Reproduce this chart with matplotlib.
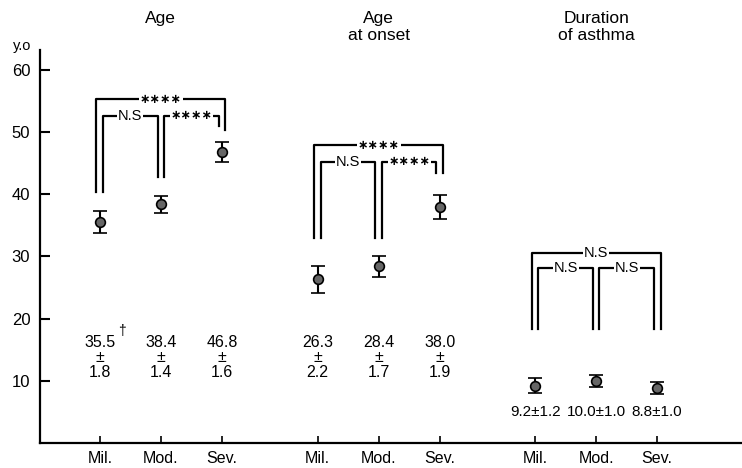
import matplotlib.pyplot as plt
import numpy as np

# data
groups = ['Age', 'Age\nat onset', 'Duration\nof asthma']
severity = ['Mil.', 'Mod.', 'Sev.']
group_offset = [0, 3.57, 7.13]

means = [[35.5, 38.4, 46.8],   # age
         [26.3, 28.4, 38.0],   # age at onset
         [9.2, 10.0, 8.8]]     # duration of asthma
sems = [[1.8, 1.4, 1.6],
        [2.2, 1.7, 1.9],
        [1.2, 1.0, 1.0]]

# brackets: outer top, inner top, leg bottoms (Mil, Mod, Sev inner, Sev outer)
bracket_top = [[55.3, 52.6], [47.9, 45.2], [30.6, 28.1]]
bracket_bottom = [[40.4, 42.8, 51.0, 50.3],
                  [32.9, 32.9, 43.5, 43.4],
                  [18.3, 18.3, 18.3, 18.3]]
# labels: outer (Mil-Sev), Mil-Mod, Mod-Sev
bracket_label = [['****', 'N.S', '****'],
                 ['****', 'N.S', '****'],
                 ['N.S', 'N.S', 'N.S']]

yticks = [10, 20, 30, 40, 50, 60]

plt.rcParams['font.family'] = ['Liberation Sans', 'DejaVu Sans']

fig = plt.figure(figsize=(7.42, 4.68), dpi=100)
ax = fig.add_axes([40 / 742, 25 / 468, 702 / 742, 393 / 468])


def label_text(x, y, s):
    box = dict(facecolor='white', edgecolor='none', pad=0.5)
    if '*' in s:
        ax.text(x, y, s.replace('*', '\u2217'), ha='center', va='center',
                fontsize=9, fontweight='bold', family='DejaVu Sans', bbox=box)
    else:
        ax.text(x, y, s, ha='center', va='center', fontsize=10.5, bbox=box)


d = 0.055
lw = 1.6
for g in range(3):
    x = np.array(group_offset[g]) + np.arange(3)
    ax.errorbar(x, means[g], yerr=sems[g], fmt='o', color='k', ms=7,
                mfc='#666666', mec='k', mew=1.2, elinewidth=1.5,
                capsize=5, capthick=1.5)

    top_o, top_i = bracket_top[g]
    b = bracket_bottom[g]
    lo, li, mo = bracket_label[g]
    # outer bracket Mil - Sev
    ax.plot([x[0] - d, x[0] - d, x[2] + d, x[2] + d], [b[0], top_o, top_o, b[3]],
            color='k', lw=lw)
    # Mil - Mod
    ax.plot([x[0] + d, x[0] + d, x[1] - d, x[1] - d], [b[0], top_i, top_i, b[1]],
            color='k', lw=lw)
    # Mod - Sev
    ax.plot([x[1] + d, x[1] + d, x[2] - d, x[2] - d], [b[1], top_i, top_i, b[2]],
            color='k', lw=lw)
    label_text((x[0] + x[2]) / 2, top_o, lo)
    label_text((x[0] + x[1]) / 2, top_i, li)
    label_text((x[1] + x[2]) / 2, top_i, mo)

    # values printed under the points
    for i in range(3):
        if g < 2:
            ax.text(x[i], 13.7, '%.1f\n±\n%.1f' % (means[g][i], sems[g][i]),
                    ha='center', va='center', fontsize=11.5, linespacing=1.0)
        else:
            ax.text(x[i], 5.0, '%.1f±%.1f' % (means[g][i], sems[g][i]),
                    ha='center', va='center', fontsize=11)

    ax.text(x[1], 1.099, groups[g], transform=ax.get_xaxis_transform(),
            ha='center', va='top', fontsize=12.5, linespacing=1.2)

ax.text(0.36, 18.0, '†', ha='center', va='center', fontsize=10)
ax.text(-0.039, 1.01, 'y.o', transform=ax.transAxes, ha='left', va='center',
        fontsize=10.5)

xt = np.concatenate([np.array(o) + np.arange(3) for o in group_offset])
ax.set_xticks(xt)
ax.set_xticklabels(severity * 3, fontsize=11.5)
ax.set_yticks(yticks)
ax.set_yticklabels([str(v) for v in yticks], fontsize=12)
ax.set_xlim(-0.98, 10.52)
ax.set_ylim(0, 63.2)
ax.tick_params(axis='y', direction='in', length=7, width=1.5, pad=7)
ax.tick_params(axis='x', direction='in', length=5, width=1.2, pad=6)
for s in ['top', 'right']:
    ax.spines[s].set_visible(False)
for s in ['left', 'bottom']:
    ax.spines[s].set_linewidth(1.6)

fig.savefig('out.png', dpi=100)
